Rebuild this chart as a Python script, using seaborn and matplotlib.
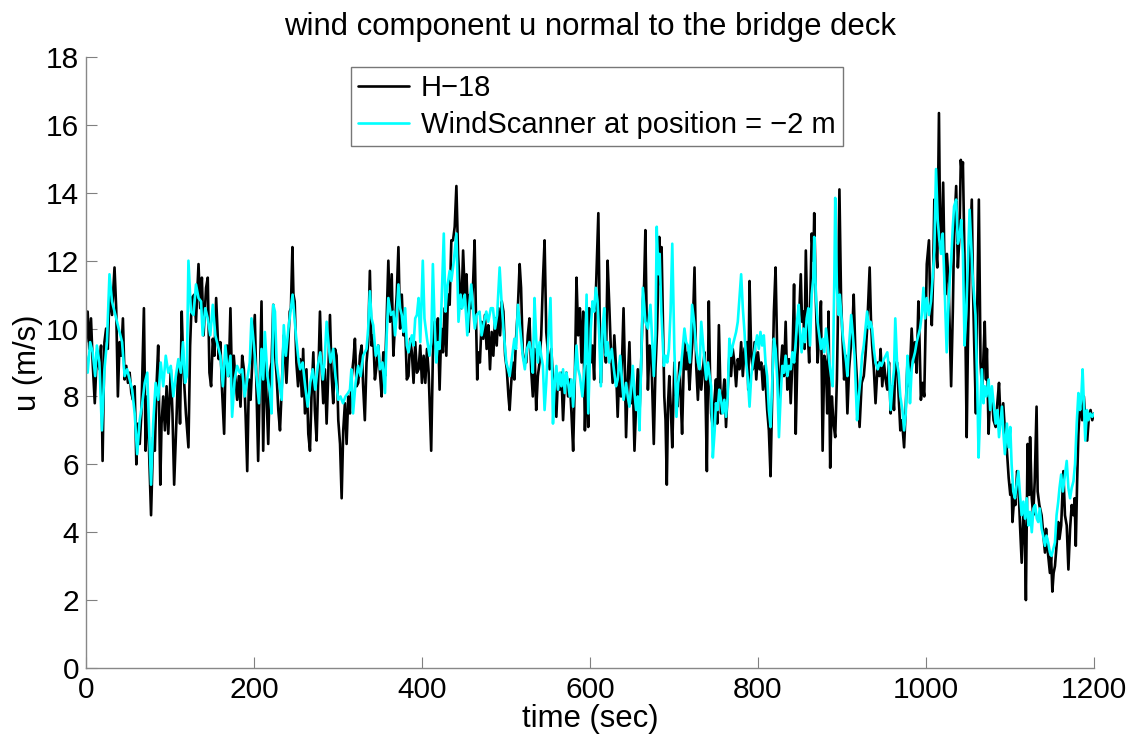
import matplotlib
matplotlib.use("Agg")
import matplotlib.pyplot as plt
import seaborn as sns
import pandas as pd

# H-18 anemometer: (time [s], u [m/s])
h18 = [
    (0, 9.6), (2, 10.5), (4, 9.4), (6, 10.3), (8, 9.0), (10.5, 7.8), (13, 9.3), (16, 8.8), (18, 9.5),
    (19.8, 6.1), (22, 9.6), (24, 10.0), (26, 9.4), (28, 11.0), (31, 10.4), (34, 11.8), (36, 10.6),
    (38, 8.0), (40, 9.6), (42, 9.2), (44, 10.3), (46, 8.5), (48, 8.9), (50, 8.4), (52, 8.7), (54, 8.1),
    (56, 7.9), (58, 8.3), (60, 6.0), (62, 7.2), (64, 6.6), (66, 7.5), (69, 10.6), (71, 6.4), (73, 8.0),
    (75, 6.5), (77.5, 4.5), (80, 6.8), (82, 6.4), (84, 8.3), (86, 9.5), (88.5, 5.4), (90, 7.2), (92, 8.0),
    (94, 7.0), (96, 8.3), (98, 6.9), (101, 8.8), (103, 7.5), (105, 5.4), (108, 7.5), (110, 9.0),
    (112, 7.2), (114, 10.5), (116, 8.8), (119, 7.5), (122, 6.5), (124, 9.5), (126, 10.9), (129, 11.0),
    (131, 10.2), (134, 11.9), (136, 10.6), (138, 11.5), (140, 9.8), (143, 11.2), (145, 11.5), (147, 8.7),
    (149, 8.3), (151, 9.7), (153, 9.2), (155, 10.9), (158, 9.1), (160, 9.6), (162, 8.2), (164.5, 6.9),
    (166, 8.8), (168, 9.5), (170, 8.6), (172, 10.6), (174, 8.2), (176, 9.2), (178, 8.5), (180, 7.9),
    (182, 8.6), (184, 7.7), (186, 9.2), (188, 8.8), (190, 7.5), (192, 5.8), (194, 8.5), (196, 7.9),
    (198, 9.0), (201, 10.4), (203, 8.2), (205, 6.1), (207, 8.5), (209, 10.8), (211, 6.4), (213, 9.2),
    (215, 8.0), (217, 6.6), (219, 8.7), (221, 9.0), (223, 10.7), (225, 9.3), (227, 8.6), (229, 7.6),
    (231, 7.0), (233, 8.2), (235.5, 9.8), (238.7, 8.4), (240.5, 9.4), (242.6, 10.5), (244, 10.6),
    (245.8, 12.4), (247, 11.0), (248.5, 10.8), (250.5, 9.0), (252.5, 8.3), (255, 9.1), (257, 8.0),
    (258.6, 9.4), (260.7, 7.5), (262.5, 8.8), (264.7, 6.9), (266.7, 6.4), (268.5, 8.0), (270.7, 9.3),
    (272.5, 7.6), (274.6, 6.7), (276.5, 8.5), (278.6, 10.5), (280.5, 8.9), (282.5, 7.8), (284.5, 8.8),
    (286.5, 7.2), (288.5, 8.7), (290.5, 10.4), (292.5, 8.6), (294.4, 7.8), (296.5, 9.4), (298.4, 9.2),
    (300.4, 7.3), (302.5, 6.6), (304.4, 5.0), (306.3, 7.0), (308.3, 7.8), (310.3, 6.6), (312.3, 8.0),
    (314.3, 7.5), (316.5, 8.6), (318.5, 9.1), (320.2, 9.7), (322.2, 8.3), (324.2, 8.4), (326.2, 9.2),
    (328.2, 9.5), (330, 8.3), (332, 7.3), (334, 9.0), (336, 9.6), (338, 11.7), (340, 9.5), (342, 9.8),
    (344, 8.5), (346, 8.9), (348, 9.5), (350, 8.7), (352, 8.0), (354, 9.3), (356, 8.6), (358, 10.3),
    (360, 12.0), (362, 10.2), (364, 11.6), (366, 9.2), (368, 10.2), (370, 11.0), (372, 12.4), (374, 10.0),
    (376, 11.0), (378, 9.8), (380, 10.1), (382, 8.5), (384, 8.6), (386, 9.7), (388, 9.3), (390, 8.4),
    (392, 9.6), (394, 8.7), (396, 8.8), (398, 9.5), (400, 8.4), (402, 9.2), (404, 8.4), (406, 9.4),
    (408, 8.7), (411, 6.4), (413, 9.2), (415, 10.2), (417, 9.4), (419, 10.3), (421, 8.2), (423, 10.0),
    (425, 9.3), (427, 10.6), (429, 9.2), (431, 11.0), (433, 10.7), (435, 12.6), (437, 12.6), (439, 13.0),
    (441, 14.2), (443, 12.2), (445, 11.2), (447, 10.6), (449, 12.3), (451, 11.0), (453, 11.6),
    (455.6, 9.9), (457, 11.0), (459, 10.6), (461, 11.4), (462.7, 12.6), (464, 10.8), (465.8, 8.5),
    (467, 9.3), (469, 9.0), (471, 10.2), (473, 9.7), (475, 10.4), (477, 9.4), (479, 10.1), (481, 8.8),
    (483, 9.9), (485, 9.2), (487, 10.3), (489, 9.5), (491, 10.6), (493, 9.8), (495, 10.8), (497, 10.5),
    (499, 9.2), (501, 8.8), (503, 8.0), (504.4, 7.6), (506, 8.3), (508, 9.0), (510, 8.5), (512, 9.7),
    (514, 10.5), (516.3, 11.9), (518, 11.2), (520, 9.3), (522, 9.0), (524.2, 9.0), (526, 9.8),
    (528, 10.3), (530, 8.8), (532, 8.0), (534, 9.4), (536, 7.6), (538, 8.6), (540, 9.0), (542, 9.8),
    (544, 11.4), (546, 12.6), (548, 9.9), (550, 9.3), (552, 8.8), (554, 9.4), (556, 8.5), (558, 8.1),
    (560, 7.4), (562, 8.6), (564, 8.2), (566, 8.7), (568, 7.3), (570, 8.4), (572, 8.7), (574, 8.0),
    (576, 8.5), (578, 7.5), (580, 6.4), (582, 8.5), (584, 11.5), (586, 9.8), (588, 10.6), (590, 9.0),
    (592, 10.5), (594, 7.0), (596, 8.9), (598, 7.1), (599, 10.6), (601, 9.0), (603, 9.5), (605, 8.5),
    (607, 11.0), (610, 13.4), (611.5, 10.5), (613, 8.4), (615, 9.6), (617, 10.1), (619, 9.0), (621, 12.0),
    (623, 10.7), (625, 9.3), (627, 8.4), (629, 9.8), (631, 8.9), (633, 7.4), (635, 8.8), (637, 8.0),
    (640, 10.6), (641.5, 8.9), (643, 6.8), (645, 8.5), (647, 9.6), (649, 7.8), (651, 8.5), (653, 6.4),
    (655, 7.8), (657, 8.8), (659, 7.5), (661, 9.0), (663, 10.8), (664.5, 11.3), (666, 12.9),
    (667.5, 10.3), (669, 8.2), (671, 9.5), (673, 9.3), (675, 7.5), (676, 6.6), (678, 8.8), (680, 10.0),
    (682.5, 12.7), (684, 11.3), (685.3, 12.4), (687, 10.0), (688.5, 8.0), (690, 7.3), (691.5, 5.4),
    (693, 7.8), (694.5, 8.6), (696.5, 7.5), (698, 6.5), (700.5, 9.0), (702, 8.2), (704, 7.7),
    (706.6, 9.0), (708, 8.0), (709.7, 6.9), (711, 8.3), (712.5, 9.8), (714.5, 8.8), (716.5, 9.3),
    (718.5, 8.2), (720, 8.9), (722, 9.6), (724.5, 11.8), (726.5, 8.9), (728.5, 7.9), (730.5, 9.0),
    (732.5, 8.2), (734.5, 8.8), (736.5, 9.3), (738, 7.5), (739.2, 5.8), (741.5, 10.8), (743, 8.6),
    (744.3, 7.5), (746.3, 7.1), (748, 7.8), (750, 8.5), (751.5, 7.2), (753.5, 10.1), (756, 7.5),
    (758, 7.9), (760, 8.5), (762, 7.1), (764, 8.2), (766, 9.2), (768, 8.6), (770, 9.4), (772, 9.0),
    (774, 8.3), (776, 9.1), (778, 8.8), (780, 9.6), (782, 8.6), (784, 9.4), (787, 9.6), (788.5, 8.2),
    (790, 11.4), (792, 9.2), (794, 8.8), (796, 9.6), (798, 8.5), (800, 9.3), (802, 8.8), (804, 9.0),
    (806, 8.2), (808, 8.9), (811, 7.6), (813, 7.0), (815, 5.65), (817, 8.1), (819, 10.5), (821, 11.8),
    (823, 9.2), (825, 7.8), (827, 8.8), (829, 9.5), (831, 8.6), (833, 10.2), (835, 8.2), (837, 9.1),
    (839, 7.8), (841, 9.0), (843, 11.3), (845, 6.9), (847, 9.2), (848.5, 10.0), (851, 11.6),
    (852.5, 10.2), (854, 10.5), (855.5, 9.4), (857, 12.3), (859, 10.0), (861, 9.0), (862.5, 11.0),
    (864, 12.8), (866, 12.0), (867, 13.4), (869, 10.8), (871, 9.0), (873, 9.8), (875, 10.8), (877, 6.4),
    (879, 9.2), (881, 8.9), (882.5, 7.5), (884, 10.5), (886, 5.9), (888, 8.0), (890, 7.2), (892, 6.8),
    (894, 8.5), (895, 10.0), (897, 14.1), (899, 10.8), (901, 9.5), (902.6, 8.5), (904.5, 9.2),
    (906.5, 7.5), (908.5, 8.8), (911, 9.6), (912.5, 10.0), (914, 11.0), (916, 9.3), (918, 8.4),
    (921, 7.1), (923.5, 8.4), (926, 8.6), (928, 9.2), (930, 10.0), (933, 11.8), (934.5, 10.3),
    (936, 9.5), (938, 8.8), (940, 7.8), (942.6, 9.0), (944.5, 8.6), (946, 9.4), (948, 8.3), (950, 9.0),
    (952, 8.5), (954, 8.2), (956, 9.0), (958, 7.5), (960, 8.3), (962, 7.6), (963.5, 9.0), (965.6, 9.0),
    (967.5, 8.0), (969.5, 7.0), (971.5, 7.3), (974, 6.5), (976, 7.7), (978, 9.0), (980, 8.3), (981, 8.8),
    (983, 10.0), (985, 9.0), (987, 9.6), (989, 8.7), (991, 10.8), (992.5, 9.5), (994, 7.9), (996, 8.4),
    (998, 8.0), (1001, 11.9), (1003.6, 12.6), (1005, 10.8), (1007, 10.1), (1008.5, 11.5), (1010, 13.8),
    (1012, 12.3), (1013.5, 11.8), (1015.5, 16.35), (1017, 12.5), (1018.5, 12.3), (1020.5, 14.3),
    (1022, 12.0), (1023, 11.0), (1025, 12.2), (1027, 11.3), (1028.5, 9.8), (1030, 8.3), (1032, 10.5),
    (1033.5, 12.8), (1036, 14.2), (1038, 11.8), (1040, 12.8), (1041.5, 14.97), (1043, 14.5),
    (1044, 14.9), (1046, 12.0), (1047.5, 9.0), (1048.5, 6.8), (1050, 9.6), (1052, 12.0), (1054.6, 13.8),
    (1056, 11.2), (1057.5, 9.5), (1059.5, 7.5), (1061, 10.5), (1063, 13.8), (1065, 9.0), (1067, 8.1),
    (1068.5, 9.2), (1070, 10.2), (1071.5, 8.5), (1072.6, 9.4), (1074.6, 6.9), (1076.5, 8.1),
    (1078.5, 8.0), (1080.5, 7.3), (1083, 7.1), (1085, 7.8), (1087, 8.4), (1089, 7.2), (1090.5, 7.5),
    (1092, 7.8), (1094, 7.0), (1096.4, 6.4), (1098.5, 5.6), (1100.4, 5.1), (1102, 5.4), (1103, 4.3),
    (1105, 5.0), (1106.5, 4.8), (1108.5, 5.8), (1110, 5.5), (1112, 4.2), (1114, 3.1), (1116, 4.6),
    (1118, 3.6), (1119, 2.0), (1121, 6.6), (1123, 5.1), (1124, 6.8), (1126, 5.0), (1127.7, 4.5),
    (1129.5, 5.5), (1131.7, 7.7), (1133, 5.2), (1135, 4.8), (1137.7, 4.5), (1139.5, 4.0), (1141.7, 3.4),
    (1143, 4.1), (1144.8, 3.5), (1146, 3.2), (1147.6, 2.8), (1149, 3.3), (1150.5, 2.25), (1152, 2.8),
    (1153.6, 3.0), (1155.5, 3.6), (1157.5, 4.3), (1159, 3.8), (1161, 4.2), (1163.6, 5.8), (1165.5, 4.5),
    (1167.6, 4.2), (1169.6, 2.9), (1171.6, 4.1), (1173.5, 4.8), (1175.6, 4.5), (1177, 5.0),
    (1178.4, 3.6), (1180, 5.5), (1181.5, 6.9), (1183.5, 7.9), (1186, 7.3), (1188, 8.0), (1190, 7.2),
    (1192, 6.7), (1194, 7.4), (1196, 7.6), (1198, 7.3), (1200, 7.5),
]

# WindScanner lidar at position -2 m: (time [s], u [m/s])
windscanner = [
    (0, 9.2), (2, 8.7), (5, 9.6), (8, 9.3), (11, 8.6), (13, 9.5), (16, 9.0), (19, 7.0), (22, 8.8),
    (25, 9.6), (28, 11.6), (31, 10.8), (34, 10.5), (37, 10.2), (40, 9.9), (43, 9.6), (46, 8.6), (49, 8.8),
    (52, 8.5), (55, 8.2), (58, 7.5), (61, 6.3), (64, 7.3), (67, 7.8), (70, 8.4), (73, 8.7), (75.5, 6.8),
    (77.5, 5.4), (80, 7.2), (83, 8.4), (86, 7.9), (89, 9.0), (92, 8.3), (95, 9.2), (98, 8.7), (101, 8.9),
    (104, 8.0), (107, 8.6), (110, 9.1), (113, 8.7), (115.5, 9.6), (118, 8.4), (120, 8.6), (122, 12.0),
    (125, 10.5), (128, 10.4), (131, 11.3), (134, 10.9), (137, 10.8), (139, 9.8), (142, 10.6),
    (145, 10.3), (148, 9.8), (151, 10.7), (154, 9.8), (157, 9.5), (160, 9.2), (163, 8.3), (166, 9.5),
    (169, 8.6), (172, 9.2), (174, 7.4), (177, 8.5), (180, 8.9), (183, 8.7), (186, 8.8), (189, 8.0),
    (192, 8.5), (195, 9.0), (197, 10.3), (200, 9.5), (203, 8.6), (206, 7.8), (209, 9.4), (211, 8.5),
    (213, 9.9), (216, 8.6), (219, 8.1), (221, 7.5), (223, 10.7), (225, 10.5), (227, 9.0), (230, 8.4),
    (233, 7.9), (235.5, 10.1), (238, 9.2), (241, 10.0), (243.5, 10.5), (246, 11.0), (248, 10.4),
    (250, 9.8), (252.5, 9.2), (255, 8.8), (258, 9.0), (261, 8.3), (264, 7.7), (267, 8.4), (270, 8.8),
    (273, 8.2), (276, 8.9), (279, 9.3), (282, 8.5), (284, 9.0), (286.5, 10.2), (289, 9.5), (291, 9.0),
    (294.4, 9.4), (297, 8.6), (300.4, 7.9), (303, 8.0), (306, 7.8), (309, 8.0), (312, 8.1), (314.3, 8.2),
    (316, 8.8), (318, 7.5), (321, 8.4), (324, 8.9), (327, 8.6), (330, 9.2), (334, 9.4), (336, 10.0),
    (338, 11.1), (340, 10.3), (342, 10.1), (345, 9.2), (348, 9.5), (350, 8.8), (353, 9.0), (356, 8.1),
    (358, 9.8), (360, 10.9), (363, 10.4), (366, 10.5), (368, 9.8), (370, 10.4), (372, 11.3),
    (374, 10.6), (376, 10.4), (378, 9.9), (380, 10.6), (382, 9.5), (384, 9.3), (386, 9.6), (388, 9.8),
    (390, 9.5), (392, 10.3), (394, 10.4), (396, 10.9), (398, 9.6), (401, 12.0), (403, 10.3), (406, 9.7),
    (409, 9.2), (411, 9.6), (413, 11.9), (415, 10.2), (417, 9.0), (419, 9.6), (421, 9.4), (423, 10.5),
    (426, 12.8), (428, 10.5), (430, 11.2), (433, 11.7), (435, 11.4), (438, 12.0), (441, 12.8),
    (443.5, 10.2), (446, 11.0), (448, 10.6), (451, 11.0), (454, 9.8), (456, 10.6), (458.7, 11.3),
    (461, 10.5), (463, 10.0), (465, 10.4), (468.6, 10.5), (471, 9.8), (474, 10.2), (476.6, 10.5),
    (479, 10.2), (482, 10.6), (484.5, 10.6), (487, 10.0), (489.5, 10.4), (492.5, 11.8), (494.5, 10.9),
    (497, 10.0), (500.4, 9.0), (502.5, 8.8), (504.4, 8.6), (507, 9.1), (510, 9.7), (512, 9.4),
    (514.3, 10.7), (517, 10.0), (520, 9.2), (522.5, 8.8), (525, 9.4), (528, 9.6), (530, 9.3), (532, 8.7),
    (534, 10.9), (536, 9.7), (538, 9.0), (540, 9.6), (542, 9.2), (544, 8.9), (546, 7.6), (548, 8.4),
    (550, 9.5), (553, 10.9), (555, 8.6), (556, 7.2), (558, 8.4), (560, 8.9), (562, 8.2), (564, 8.7),
    (566, 8.3), (568, 8.8), (570, 8.1), (572, 8.7), (574, 8.4), (576, 8.0), (578, 8.5), (580, 7.7),
    (582, 8.6), (584, 9.5), (586, 8.8), (588, 8.6), (591, 8.0), (594, 9.0), (596, 11.0), (598, 7.5),
    (601, 10.0), (603, 10.8), (605, 10.5), (607, 11.2), (609, 10.8), (611, 9.8), (613, 8.3), (615, 10.0),
    (617, 10.6), (619, 9.2), (621, 9.6), (623, 9.0), (626, 9.4), (628, 8.9), (631, 8.3), (633, 8.5),
    (636, 9.2), (638, 8.5), (640, 7.9), (643, 8.4), (645, 8.0), (647, 7.7), (649, 8.2), (651, 8.9),
    (653, 8.1), (655, 7.6), (657, 8.0), (659, 7.0), (661, 9.0), (663, 11.2), (666, 10.2), (669, 10.0),
    (672, 10.7), (674, 9.7), (676, 8.6), (678, 9.8), (679.5, 13.0), (681.5, 11.6), (683, 12.2),
    (685, 10.5), (688, 8.9), (690, 9.2), (692, 9.0), (694, 9.4), (696, 10.5), (698, 12.5), (700.5, 9.4),
    (703, 7.4), (705, 8.4), (708, 8.8), (710, 9.3), (712.5, 10.0), (714.5, 9.6), (716.5, 9.5),
    (719, 9.0), (721.6, 10.7), (724, 10.2), (726.5, 9.4), (728.5, 9.0), (730.5, 8.8), (732.5, 10.2),
    (734.5, 9.6), (736.5, 9.0), (738.5, 8.5), (740.5, 9.0), (742.5, 8.6), (744.3, 8.3), (746.3, 6.2),
    (748.5, 7.0), (750, 7.8), (752, 7.6), (754, 8.2), (756, 7.9), (758, 7.5), (760, 7.9), (762, 7.4),
    (764, 8.0), (766, 9.7), (768, 9.2), (770, 9.5), (772, 9.7), (774, 9.9), (776, 10.2), (778, 10.9),
    (780, 11.6), (782, 10.6), (784, 9.9), (786, 9.0), (788, 8.5), (790, 7.7), (792, 8.6), (794, 9.0),
    (797, 9.5), (799, 9.8), (801, 9.4), (803, 9.9), (805, 9.5), (807, 9.8), (809, 9.0), (811, 8.6),
    (813, 7.6), (815, 7.1), (817, 8.4), (819, 9.7), (821, 9.4), (823, 8.5), (825, 6.8), (827, 8.0),
    (829, 8.9), (831, 8.7), (833, 9.2), (835, 8.6), (837, 8.9), (839, 8.8), (841, 9.3), (843, 9.0),
    (845, 9.6), (846.5, 10.2), (848.5, 10.7), (850, 9.9), (852, 9.3), (854, 10.0), (856, 9.6),
    (858, 10.3), (860, 10.6), (862, 9.5), (864, 11.0), (866, 11.5), (867, 12.7), (869, 11.0), (871, 10.2),
    (873, 9.8), (875, 9.4), (877, 9.7), (879, 9.3), (881, 10.0), (883, 9.5), (885, 9.0), (887, 8.6),
    (889, 8.3), (891, 11.6), (892, 13.85), (894, 11.2), (896, 10.4), (897.5, 11.0), (899, 10.5),
    (901, 9.8), (903, 9.4), (905, 9.0), (906.5, 8.6), (908.5, 9.5), (911, 10.4), (913, 9.8), (915, 9.2),
    (918, 7.3), (920, 8.0), (922, 8.5), (924, 9.2), (926, 9.5), (928, 10.0), (930, 10.5), (932, 10.0),
    (934, 10.2), (936, 10.0), (938, 9.4), (940, 9.0), (942.6, 8.8), (945, 9.0), (947, 8.9), (950, 9.1),
    (952, 9.2), (954, 9.3), (956, 8.8), (958, 7.6), (960, 8.3), (962, 8.8), (963.5, 10.3), (965.6, 9.0),
    (967.5, 8.7), (969.5, 8.0), (972, 7.6), (974, 7.0), (976, 7.5), (978, 9.2), (980, 8.6), (981, 7.8),
    (983, 8.8), (985, 9.1), (987, 9.3), (989, 9.6), (991, 9.8), (993, 10.0), (995, 10.4), (997, 11.2),
    (999, 10.3), (1001, 10.9), (1003.6, 10.4), (1006, 10.8), (1008, 11.5), (1010, 12.3), (1012, 14.7),
    (1014, 13.2), (1016, 12.6), (1018, 12.2), (1020, 12.8), (1022, 11.4), (1024.7, 9.3), (1026.5, 10.5),
    (1028.5, 11.5), (1030, 12.0), (1032, 13.0), (1033.5, 13.6), (1036, 13.8), (1038, 12.5),
    (1040, 12.7), (1042, 13.2), (1044, 12.2), (1046, 9.5), (1048, 10.5), (1050, 12.0), (1052, 13.5),
    (1054, 12.4), (1055.5, 11.6), (1057, 11.1), (1059, 10.4), (1061, 8.4), (1062.7, 6.2), (1064.5, 7.5),
    (1066.5, 8.8), (1068.5, 7.8), (1070, 8.3), (1072, 8.0), (1074.6, 8.5), (1076.5, 7.6), (1078.5, 8.3),
    (1080.5, 7.8), (1083, 7.2), (1085, 7.6), (1087, 6.8), (1089, 7.3), (1090.5, 7.7), (1092, 7.0),
    (1094, 6.3), (1096.4, 7.2), (1098.5, 6.5), (1100.4, 7.1), (1102, 6.0), (1104, 5.2), (1106, 5.0),
    (1108, 5.4), (1110, 5.8), (1112, 5.1), (1114, 4.5), (1116, 4.9), (1118, 4.4), (1120, 5.0),
    (1122, 4.2), (1124, 4.6), (1126, 4.0), (1128, 4.7), (1130, 4.8), (1132, 4.4), (1133.7, 4.3),
    (1135.5, 4.7), (1137.7, 4.1), (1139.5, 3.9), (1141.7, 3.6), (1143.5, 3.9), (1145.5, 3.7),
    (1147.6, 3.4), (1149.5, 3.3), (1151.5, 3.5), (1153.6, 3.7), (1155.5, 4.5), (1157.5, 4.9),
    (1159, 5.3), (1161, 5.7), (1163, 5.2), (1165, 5.6), (1167.6, 6.1), (1169.6, 5.3), (1171.6, 5.0),
    (1173.5, 5.3), (1175.6, 5.5), (1177.5, 6.0), (1179.5, 7.2), (1181.5, 8.1), (1183.5, 7.6),
    (1185, 8.0), (1186.5, 8.8), (1188, 7.8), (1189.7, 6.7), (1191.7, 7.6), (1193.5, 7.3),
    (1195.6, 7.5), (1198, 7.4), (1200, 7.5),
]

series_labels = ["H\u221218", "WindScanner at position = \u22122 m"]
series_colors = ["#000000", "#00ffff"]
x_ticks = [0, 200, 400, 600, 800, 1000, 1200]
y_ticks = [0, 2, 4, 6, 8, 10, 12, 14, 16, 18]

h18_t, h18_u = map(list, zip(*h18))
ws_t, ws_u = map(list, zip(*windscanner))
df = pd.concat([
    pd.DataFrame({"t": h18_t, "u": h18_u, "src": series_labels[0]}),
    pd.DataFrame({"t": ws_t, "u": ws_u, "src": series_labels[1]}),
])

sns.set_theme(style="white")
plt.rcParams["font.family"] = ["Liberation Sans", "DejaVu Sans"]
plt.rcParams["text.color"] = "black"
plt.rcParams["axes.labelcolor"] = "black"
plt.rcParams["xtick.color"] = "black"
plt.rcParams["ytick.color"] = "black"

fig = plt.figure(figsize=(11.28, 7.35), dpi=100)
ax = fig.add_axes([0.0762, 0.0912, 0.8936, 0.8312])

sns.lineplot(data=df, x="t", y="u", hue="src", palette=series_colors,
             hue_order=series_labels, estimator=None, sort=False,
             linewidth=1.9, ax=ax)

ax.set_xlim(0, 1200)
ax.set_ylim(0, 18)
ax.set_xticks(x_ticks)
ax.set_yticks(y_ticks)
ax.tick_params(direction="in", length=8, width=0.8, color="#808080",
               labelsize=21.5, labelcolor="black",
               top=False, right=False, bottom=True, left=True)
ax.tick_params(axis="x", pad=6)
ax.tick_params(axis="y", pad=5)
for side in ("top", "right"):
    ax.spines[side].set_visible(False)
for side in ("left", "bottom"):
    ax.spines[side].set_color("#888888")
    ax.spines[side].set_linewidth(1.0)

ax.set_title("wind component u normal to the bridge deck", fontsize=22.4, pad=16)
ax.set_xlabel("time (sec)", fontsize=22.4, labelpad=0)
ax.set_ylabel("u (m/s)", fontsize=22.4, labelpad=2)

leg = ax.legend(loc="upper left", bbox_to_anchor=(351 / 1128, 1 - 67 / 735),
                bbox_transform=fig.transFigure, fontsize=21, frameon=True,
                fancybox=False, handlelength=1.75, handletextpad=0.4,
                borderpad=0.25, labelspacing=0.3, borderaxespad=0)
leg.get_frame().set_edgecolor("#555555")
leg.get_frame().set_linewidth(1.0)
for line in leg.get_lines():
    line.set_linewidth(1.9)

fig.savefig("out.png", dpi=100)
